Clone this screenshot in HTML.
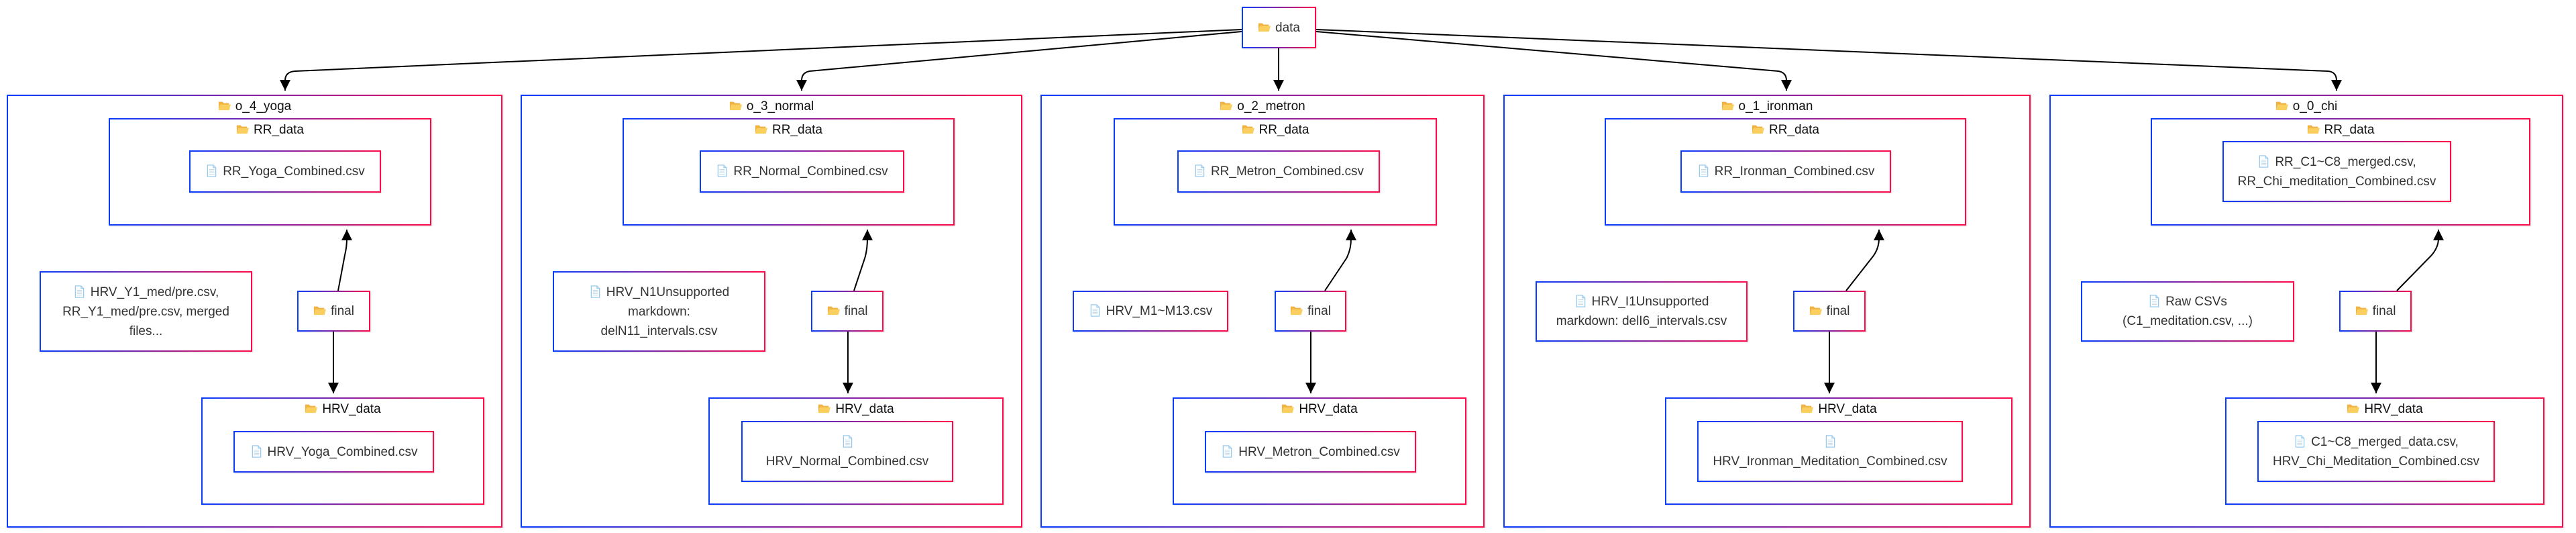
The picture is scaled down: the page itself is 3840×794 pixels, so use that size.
<!DOCTYPE html>
<html><head><meta charset="utf-8">
<style>
html,body{margin:0;padding:0;background:#fff;}
body{width:3840px;height:794px;position:relative;overflow:hidden;font-family:"Liberation Sans",Arial,sans-serif;font-size:19px;color:#333;}
.b{position:absolute;box-sizing:border-box;border:2px solid #0044ff;border-image:linear-gradient(90deg,#0a3cff,#ff0a48) 1;background:#fff;box-shadow:1px 1px 2px rgba(0,0,0,0.12);}
.c{background:transparent;}
.t{position:absolute;top:5px;left:0;right:0;text-align:center;color:#111;line-height:22px;white-space:nowrap;}
.n{display:flex;align-items:center;justify-content:center;text-align:center;line-height:29px;}
svg.i{width:19px;height:19px;vertical-align:-3px;margin-right:7px;}
svg.top{position:absolute;left:0;top:0;}
</style></head><body>
<svg width="0" height="0" style="position:absolute">
<defs>
<symbol id="fo" viewBox="0 0 20 18"><path d="M1 3 h6 l2 2 h8 v3 H1z" fill="#e8a33a"/><path d="M1 16 L3.5 7 H20 L17.5 16z" fill="#fbcf5e"/><path d="M1 3 v13 L3.5 7 H17 V5 H9 L7 3z" fill="#f0b445"/></symbol>
<symbol id="fi" viewBox="0 0 16 20"><path d="M1.5 1 h9 l4 4 v14 h-13z" fill="#fff" stroke="#8cc4ec" stroke-width="1.2"/><path d="M10.5 1 v4 h4" fill="#cfe7f8" stroke="#8cc4ec" stroke-width="1"/><path d="M4 8h8M4 10.5h8M4 13h8M4 15.5h8" stroke="#b5d4ea" stroke-width="0.9"/></symbol>
</defs></svg>

<!-- root -->
<div class="b n" style="left:1851px;top:10px;width:111px;height:62px;"><span><svg class="i"><use href="#fo"/></svg>data</span></div>

<!-- YOGA -->
<div class="b c" style="left:10px;top:141px;width:739px;height:645px;"><div class="t"><svg class="i"><use href="#fo"/></svg>o_4_yoga</div></div>
<div class="b c" style="left:162px;top:176px;width:481px;height:160px;"><div class="t"><svg class="i"><use href="#fo"/></svg>RR_data</div></div>
<div class="b n" style="left:282px;top:224px;width:286px;height:63px;"><span><svg class="i"><use href="#fi"/></svg>RR_Yoga_Combined.csv</span></div>
<div class="b n" style="left:59px;top:404px;width:317px;height:120px;"><span><svg class="i"><use href="#fi"/></svg>HRV_Y1_med/pre.csv,<br>RR_Y1_med/pre.csv, merged<br>files...</span></div>
<div class="b n" style="left:443px;top:433px;width:109px;height:61px;"><span><svg class="i"><use href="#fo"/></svg>final</span></div>
<div class="b c" style="left:300px;top:592px;width:422px;height:160px;"><div class="t"><svg class="i"><use href="#fo"/></svg>HRV_data</div></div>
<div class="b n" style="left:348px;top:642px;width:299px;height:62px;"><span><svg class="i"><use href="#fi"/></svg>HRV_Yoga_Combined.csv</span></div>

<!-- NORMAL -->
<div class="b c" style="left:776px;top:141px;width:748px;height:645px;"><div class="t"><svg class="i"><use href="#fo"/></svg>o_3_normal</div></div>
<div class="b c" style="left:928px;top:176px;width:495px;height:160px;"><div class="t"><svg class="i"><use href="#fo"/></svg>RR_data</div></div>
<div class="b n" style="left:1043px;top:224px;width:305px;height:63px;"><span><svg class="i"><use href="#fi"/></svg>RR_Normal_Combined.csv</span></div>
<div class="b n" style="left:824px;top:404px;width:317px;height:120px;"><span><svg class="i"><use href="#fi"/></svg>HRV_N1Unsupported<br>markdown:<br>delN11_intervals.csv</span></div>
<div class="b n" style="left:1209px;top:433px;width:108px;height:61px;"><span><svg class="i"><use href="#fo"/></svg>final</span></div>
<div class="b c" style="left:1056px;top:592px;width:440px;height:160px;"><div class="t"><svg class="i"><use href="#fo"/></svg>HRV_data</div></div>
<div class="b n" style="left:1105px;top:627px;width:316px;height:91px;"><span><svg class="i" style="margin:0"><use href="#fi"/></svg><br>HRV_Normal_Combined.csv</span></div>

<!-- METRON -->
<div class="b c" style="left:1551px;top:141px;width:662px;height:645px;"><div class="t"><svg class="i"><use href="#fo"/></svg>o_2_metron</div></div>
<div class="b c" style="left:1660px;top:176px;width:482px;height:160px;"><div class="t"><svg class="i"><use href="#fo"/></svg>RR_data</div></div>
<div class="b n" style="left:1755px;top:224px;width:302px;height:63px;"><span><svg class="i"><use href="#fi"/></svg>RR_Metron_Combined.csv</span></div>
<div class="b n" style="left:1599px;top:433px;width:232px;height:61px;"><span><svg class="i"><use href="#fi"/></svg>HRV_M1~M13.csv</span></div>
<div class="b n" style="left:1900px;top:433px;width:107px;height:61px;"><span><svg class="i"><use href="#fo"/></svg>final</span></div>
<div class="b c" style="left:1748px;top:592px;width:438px;height:160px;"><div class="t"><svg class="i"><use href="#fo"/></svg>HRV_data</div></div>
<div class="b n" style="left:1796px;top:642px;width:315px;height:62px;"><span><svg class="i"><use href="#fi"/></svg>HRV_Metron_Combined.csv</span></div>

<!-- IRONMAN -->
<div class="b c" style="left:2241px;top:141px;width:786px;height:645px;"><div class="t"><svg class="i"><use href="#fo"/></svg>o_1_ironman</div></div>
<div class="b c" style="left:2392px;top:176px;width:539px;height:160px;"><div class="t"><svg class="i"><use href="#fo"/></svg>RR_data</div></div>
<div class="b n" style="left:2505px;top:224px;width:314px;height:63px;"><span><svg class="i"><use href="#fi"/></svg>RR_Ironman_Combined.csv</span></div>
<div class="b n" style="left:2289px;top:419px;width:316px;height:90px;"><span><svg class="i"><use href="#fi"/></svg>HRV_I1Unsupported<br>markdown: delI6_intervals.csv</span></div>
<div class="b n" style="left:2673px;top:433px;width:108px;height:61px;"><span><svg class="i"><use href="#fo"/></svg>final</span></div>
<div class="b c" style="left:2482px;top:592px;width:518px;height:160px;"><div class="t"><svg class="i"><use href="#fo"/></svg>HRV_data</div></div>
<div class="b n" style="left:2530px;top:627px;width:396px;height:91px;"><span><svg class="i" style="margin:0"><use href="#fi"/></svg><br>HRV_Ironman_Meditation_Combined.csv</span></div>

<!-- CHI -->
<div class="b c" style="left:3055px;top:141px;width:766px;height:645px;"><div class="t"><svg class="i"><use href="#fo"/></svg>o_0_chi</div></div>
<div class="b c" style="left:3206px;top:176px;width:566px;height:160px;"><div class="t"><svg class="i"><use href="#fo"/></svg>RR_data</div></div>
<div class="b n" style="left:3313px;top:210px;width:341px;height:91px;"><span><svg class="i"><use href="#fi"/></svg>RR_C1~C8_merged.csv,<br>RR_Chi_meditation_Combined.csv</span></div>
<div class="b n" style="left:3102px;top:419px;width:318px;height:90px;"><span><svg class="i"><use href="#fi"/></svg>Raw CSVs<br>(C1_meditation.csv, ...)</span></div>
<div class="b n" style="left:3487px;top:433px;width:108px;height:61px;"><span><svg class="i"><use href="#fo"/></svg>final</span></div>
<div class="b c" style="left:3317px;top:592px;width:476px;height:160px;"><div class="t"><svg class="i"><use href="#fo"/></svg>HRV_data</div></div>
<div class="b n" style="left:3365px;top:627px;width:354px;height:91px;"><span><svg class="i"><use href="#fi"/></svg>C1~C8_merged_data.csv,<br>HRV_Chi_Meditation_Combined.csv</span></div>

<svg class="top" width="3840" height="794">
<defs><marker id="a" markerUnits="userSpaceOnUse" markerWidth="18" markerHeight="18" refX="16" refY="8" orient="auto"><path d="M0,0 L16,8 L0,16 z" fill="#000"/></marker></defs>
<g fill="none" stroke="#000" stroke-width="2">
<path d="M1851 44 L440 106 Q425 107 425 120 L425 135" marker-end="url(#a)"/>
<path d="M1851 47 L1207 106 Q1195 108 1195 120 L1195 135" marker-end="url(#a)"/>
<path d="M1906 72 L1906 135" marker-end="url(#a)"/>
<path d="M1962 47 L2651 106 Q2663 108 2663 120 L2663 135" marker-end="url(#a)"/>
<path d="M1962 44 L3470 106 Q3483 107 3483 120 L3483 135" marker-end="url(#a)"/>

<path d="M504 433 L514 380 Q517 368 517 355 L517 342" marker-end="url(#a)"/>
<path d="M1273 433 L1289 385 Q1293 372 1293 355 L1293 342" marker-end="url(#a)"/>
<path d="M1975 433 L2007 385 Q2014 372 2014 355 L2014 342" marker-end="url(#a)"/>
<path d="M2752 433 L2792 382 Q2801 370 2801 355 L2801 342" marker-end="url(#a)"/>
<path d="M3573 433 L3622 383 Q3635 370 3635 355 L3635 342" marker-end="url(#a)"/>

<path d="M497 494 L497 586" marker-end="url(#a)"/>
<path d="M1264 494 L1264 586" marker-end="url(#a)"/>
<path d="M1954 494 L1954 586" marker-end="url(#a)"/>
<path d="M2727 494 L2727 586" marker-end="url(#a)"/>
<path d="M3542 494 L3542 586" marker-end="url(#a)"/>
</g>
</svg>
</body></html>
